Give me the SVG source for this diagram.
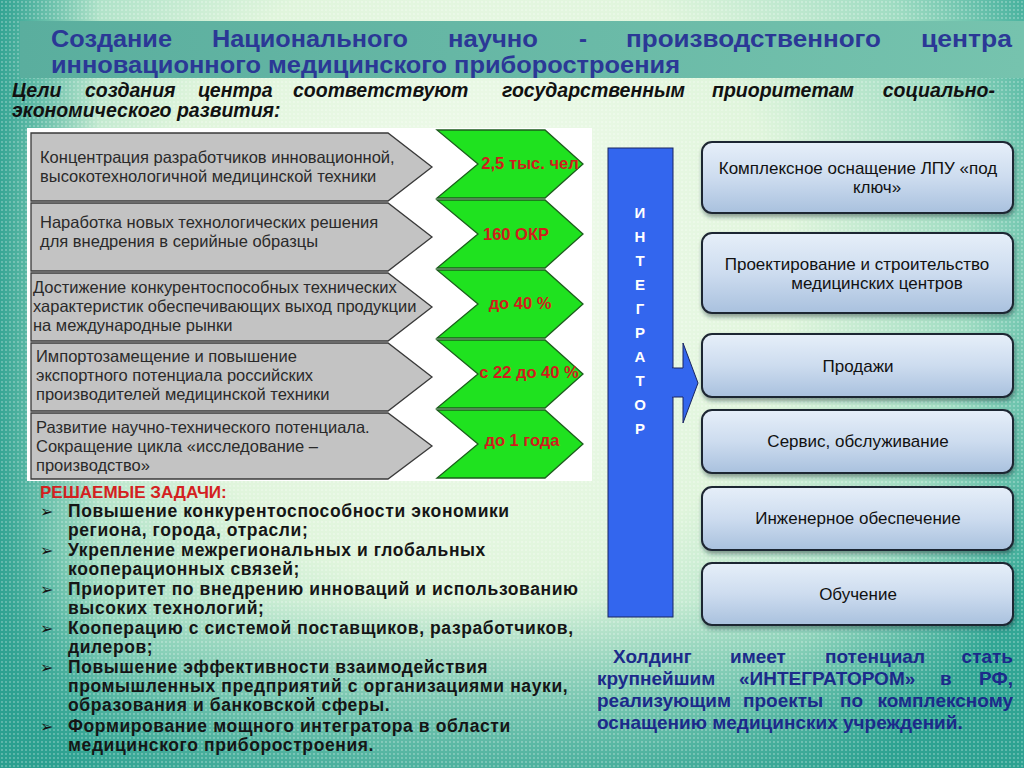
<svg xmlns="http://www.w3.org/2000/svg" width="1024" height="768" viewBox="0 0 1024 768">
<defs>
<radialGradient id="bg" gradientUnits="userSpaceOnUse" cx="470" cy="270" r="640">
<stop offset="0" stop-color="#f4fcef"/>
<stop offset="0.5" stop-color="#e0f5dc"/>
<stop offset="0.78" stop-color="#9fdcc2"/>
<stop offset="1" stop-color="#34a896"/>
</radialGradient>
<linearGradient id="leftfade" x1="0" y1="0" x2="1" y2="0">
<stop offset="0" stop-color="#2a9f8f" stop-opacity="0.9"/>
<stop offset="1" stop-color="#2a9f8f" stop-opacity="0"/>
</linearGradient>
<linearGradient id="bottomfade" x1="0" y1="0" x2="0" y2="1">
<stop offset="0" stop-color="#2a9f8f" stop-opacity="0"/>
<stop offset="1" stop-color="#2a9f8f" stop-opacity="0.7"/>
</linearGradient>
<pattern id="dots" width="4" height="4" patternUnits="userSpaceOnUse">
<circle cx="2" cy="2" r="0.9" fill="#ffffff" fill-opacity="0.35"/>
</pattern>
<linearGradient id="band" x1="0" y1="0" x2="1" y2="0">
<stop offset="0" stop-color="#5aae9e"/>
<stop offset="1" stop-color="#76c3ae"/>
</linearGradient>
<linearGradient id="boxg" x1="0" y1="0" x2="0" y2="1">
<stop offset="0" stop-color="#e6eff9"/>
<stop offset="0.5" stop-color="#cddcef"/>
<stop offset="1" stop-color="#a9c1de"/>
</linearGradient>
<filter id="sh" x="-5%" y="-10%" width="110%" height="130%">
<feDropShadow dx="1" dy="3" stdDeviation="2" flood-color="#1c2a30" flood-opacity="0.45"/>
</filter>
<style>
.title{font-family:"Liberation Sans",Arial,sans-serif;font-weight:bold;font-size:24px;fill:#2b3896}
.sub{font-family:"Liberation Sans",Arial,sans-serif;font-weight:bold;font-style:italic;font-size:19.5px;fill:#111}
.gray{fill:#c3c3c3;stroke:#3a3a3a;stroke-width:1.3}
.green{fill:#1fe21f;stroke:#1d5e1d;stroke-width:1.3}
.gt{font-family:"Liberation Sans",Arial,sans-serif;font-size:16.5px;fill:#2a2a2a}
.rt{font-family:"Liberation Sans",Arial,sans-serif;font-size:16.5px;font-weight:bold;fill:#d01c1c;text-anchor:middle}
.box{fill:url(#boxg);stroke:#1f2632;stroke-width:2;filter:url(#sh)}
.bt{font-family:"Liberation Sans",Arial,sans-serif;font-size:17px;fill:#111;text-anchor:middle}
.vt{font-family:"Liberation Sans",Arial,sans-serif;font-size:15px;font-weight:bold;fill:#fff;text-anchor:middle}
.lt{font-family:"Liberation Sans",Arial,sans-serif;font-size:17.5px;font-weight:bold;fill:#151515;letter-spacing:0.6px}
.bl{font-family:"DejaVu Sans",sans-serif;font-size:16px;fill:#151515}
.ht{font-family:"Liberation Sans",Arial,sans-serif;font-size:19px;font-weight:bold;fill:#1c2a8a}
</style>
</defs>

<rect width="1024" height="768" fill="url(#bg)"/>
<rect width="100" height="768" fill="url(#leftfade)"/>
<rect y="600" width="1024" height="168" fill="url(#bottomfade)"/>
<rect width="1024" height="768" fill="url(#dots)"/>

<g id="title">
<rect x="20" y="21" width="1004" height="57" fill="url(#band)"/>
<text class="title" x="51" y="47" textLength="121" lengthAdjust="spacingAndGlyphs">Создание</text>
<text class="title" x="212" y="47" textLength="196" lengthAdjust="spacingAndGlyphs">Национального</text>
<text class="title" x="448" y="47" textLength="90" lengthAdjust="spacingAndGlyphs">научно</text>
<text class="title" x="579" y="47">-</text>
<text class="title" x="626" y="47" textLength="255" lengthAdjust="spacingAndGlyphs">производственного</text>
<text class="title" x="921" y="47" textLength="91" lengthAdjust="spacingAndGlyphs">центра</text>
<text class="title" x="51" y="73" textLength="629" lengthAdjust="spacingAndGlyphs">инновационного медицинского приборостроения</text>
</g>

<g id="subtitle">
<text class="sub" x="12" y="97">Цели</text>
<text class="sub" x="85" y="97">создания</text>
<text class="sub" x="198" y="97">центра</text>
<text class="sub" x="293" y="97">соответствуют</text>
<text class="sub" x="502" y="97">государственным</text>
<text class="sub" x="712" y="97">приоритетам</text>
<text class="sub" x="995" y="97" text-anchor="end">социально-</text>
<text class="sub" x="12" y="117">экономического развития:</text>
</g>

<rect x="27" y="128" width="565" height="353" fill="#ffffff"/>

<g id="row1">
<polygon class="gray" points="31,133 388,133 432,167 388,201 31,201"/>
<text class="gt" x="40" y="163">Концентрация разработчиков инновационной,</text>
<text class="gt" x="40" y="182">высокотехнологичной медицинской техники</text>
<polygon class="green" points="437,130 545,130 583,164 545,198 437,198 478,164"/>
<text class="rt" x="530" y="169">2,5 тыс. чел</text>
</g>
<g id="row2">
<polygon class="gray" points="31,203 388,203 432,237 388,271 31,271"/>
<text class="gt" x="40" y="228">Наработка новых технологических решения</text>
<text class="gt" x="40" y="247">для внедрения в серийные образцы</text>
<polygon class="green" points="437,200 545,200 583,234 545,268 437,268 478,234"/>
<text class="rt" x="516" y="240">160 ОКР</text>
</g>
<g id="row3">
<polygon class="gray" points="31,273 388,273 432,307 388,341 31,341"/>
<text class="gt" x="33" y="293">Достижение конкурентоспособных технических</text>
<text class="gt" x="33" y="312">характеристик обеспечивающих выход продукции</text>
<text class="gt" x="33" y="331">на международные рынки</text>
<polygon class="green" points="437,270 545,270 583,304 545,338 437,338 478,304"/>
<text class="rt" x="520" y="309">до 40 %</text>
</g>
<g id="row4">
<polygon class="gray" points="31,343 388,343 432,377 388,411 31,411"/>
<text class="gt" x="36" y="362">Импортозамещение и повышение</text>
<text class="gt" x="36" y="381">экспортного потенциала российских</text>
<text class="gt" x="36" y="400">производителей медицинской техники</text>
<polygon class="green" points="437,340 545,340 583,374 545,408 437,408 478,374"/>
<text class="rt" x="529" y="378">с 22 до 40 %</text>
</g>
<g id="row5">
<polygon class="gray" points="31,413 388,413 432,446 388,479 31,479"/>
<text class="gt" x="36" y="433">Развитие научно-технического потенциала.</text>
<text class="gt" x="36" y="452">Сокращение цикла «исследование –</text>
<text class="gt" x="36" y="471">производство»</text>
<polygon class="green" points="437,410 545,410 583,444 545,478 437,478 478,444"/>
<text class="rt" x="522" y="446">до 1 года</text>
</g>

<g id="tasks">
<text x="40" y="498" font-family="Liberation Sans, Arial, sans-serif" font-size="17" font-weight="bold" fill="#d42020">РЕШАЕМЫЕ ЗАДАЧИ:</text>
<text class="bl" x="40" y="517">➢</text>
<text class="lt" x="68" y="517">Повышение конкурентоспособности экономики</text>
<text class="lt" x="68" y="536">региона, города, отрасли;</text>
<text class="bl" x="40" y="556">➢</text>
<text class="lt" x="68" y="556">Укрепление межрегиональных и глобальных</text>
<text class="lt" x="68" y="575">кооперационных связей;</text>
<text class="bl" x="40" y="595">➢</text>
<text class="lt" x="68" y="595">Приоритет по внедрению инноваций и использованию</text>
<text class="lt" x="68" y="614">высоких технологий;</text>
<text class="bl" x="40" y="634">➢</text>
<text class="lt" x="68" y="634">Кооперацию с системой поставщиков, разработчиков,</text>
<text class="lt" x="68" y="653">дилеров;</text>
<text class="bl" x="40" y="673">➢</text>
<text class="lt" x="68" y="673">Повышение эффективности взаимодействия</text>
<text class="lt" x="68" y="692">промышленных предприятий с организациями науки,</text>
<text class="lt" x="68" y="711">образования и банковской сферы.</text>
<text class="bl" x="40" y="732">➢</text>
<text class="lt" x="68" y="732">Формирование мощного интегратора в области</text>
<text class="lt" x="68" y="751">медицинского приборостроения.</text>
</g>

<g id="integrator">
<rect x="608" y="148" width="65" height="469" fill="#3366ee" stroke="#1a2560" stroke-width="1"/>
<text class="vt" x="640" y="218">И</text>
<text class="vt" x="640" y="242">Н</text>
<text class="vt" x="640" y="266">Т</text>
<text class="vt" x="640" y="290">Е</text>
<text class="vt" x="640" y="314">Г</text>
<text class="vt" x="640" y="338">Р</text>
<text class="vt" x="640" y="362">А</text>
<text class="vt" x="640" y="386">Т</text>
<text class="vt" x="640" y="410">О</text>
<text class="vt" x="640" y="434">Р</text>
</g>

<g id="connectors">
<path d="M672,368 L683,368 L683,343 L698,383 L683,423 L683,397 L672,397" fill="#3366ee" stroke="#1a2560" stroke-width="1"/>
<rect x="671" y="368.5" width="3" height="28" fill="#3366ee"/>
</g>

<g id="box1">
<rect class="box" x="702" y="142" width="311" height="71" rx="10"/>
<text class="bt" x="858" y="174">Комплексное оснащение ЛПУ «под</text>
<text class="bt" x="877" y="193">ключ»</text>
</g>
<g id="box2">
<rect class="box" x="702" y="233" width="311" height="80" rx="10"/>
<text class="bt" x="857" y="270">Проектирование и строительство</text>
<text class="bt" x="877" y="289">медицинских центров</text>
</g>
<g id="box3">
<rect class="box" x="702" y="334" width="311" height="63" rx="10"/>
<text class="bt" x="858" y="372">Продажи</text>
</g>
<g id="box4">
<rect class="box" x="702" y="410" width="311" height="63" rx="10"/>
<text class="bt" x="858" y="447">Сервис, обслуживание</text>
</g>
<g id="box5">
<rect class="box" x="702" y="487" width="311" height="63" rx="10"/>
<text class="bt" x="858" y="524">Инженерное обеспечение</text>
</g>
<g id="box6">
<rect class="box" x="702" y="563" width="311" height="62" rx="10"/>
<text class="bt" x="858" y="600">Обучение</text>
</g>

<g id="holding">
<text class="ht" x="613" y="663">Холдинг</text>
<text class="ht" x="730" y="663">имеет</text>
<text class="ht" x="825" y="663">потенциал</text>
<text class="ht" x="1013" y="663" text-anchor="end">стать</text>
<text class="ht" x="597" y="685">крупнейшим</text>
<text class="ht" x="739" y="685">«ИНТЕГРАТОРОМ»</text>
<text class="ht" x="940" y="685">в</text>
<text class="ht" x="1013" y="685" text-anchor="end">РФ,</text>
<text class="ht" x="597" y="707">реализующим</text>
<text class="ht" x="743" y="707">проекты</text>
<text class="ht" x="840" y="707">по</text>
<text class="ht" x="1013" y="707" text-anchor="end">комплексному</text>
<text class="ht" x="597" y="729">оснащению медицинских учреждений.</text>
</g>
</svg>
